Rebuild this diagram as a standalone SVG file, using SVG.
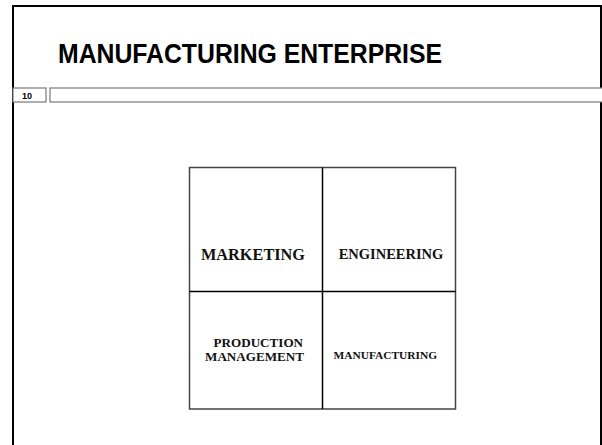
<svg xmlns="http://www.w3.org/2000/svg" width="602" height="445" viewBox="0 0 602 445">
<style>
.frame{fill:none;stroke:#000;stroke-width:2}
.bar{fill:#fff;stroke:#777;stroke-width:1.2}
.cell{fill:#fff;stroke:none}
.outer{fill:none;stroke:#444;stroke-width:1.5}
.div{stroke:#000;stroke-width:1.5}
.lbl{font-family:"Liberation Serif","Times New Roman",serif;font-weight:bold;fill:#111;text-anchor:middle}
</style>
<rect width="602" height="445" fill="#fff"/>
<rect class="frame" x="13" y="6" width="588" height="460"/>
<g id="title">
<text x="58" y="63" font-family="Liberation Sans, Arial, sans-serif" font-weight="bold" font-size="27" textLength="384" lengthAdjust="spacingAndGlyphs" fill="#000">MANUFACTURING ENTERPRISE</text>
</g>
<g id="slidebar">
<rect class="bar" x="13" y="88" width="33" height="14"/>
<rect class="bar" x="50" y="88" width="560" height="14"/>
<text x="27" y="98.5" font-family="Liberation Sans, Arial, sans-serif" font-weight="bold" font-size="9" text-anchor="middle" fill="#000">10</text>
</g>
<g id="marketing">
<rect class="cell" x="189.5" y="167.5" width="133" height="124"/>
<text class="lbl" x="253" y="260" font-size="16.3">MARKETING</text>
</g>
<g id="engineering">
<rect class="cell" x="322.5" y="167.5" width="133" height="124"/>
<text class="lbl" x="391" y="259.3" font-size="14.5">ENGINEERING</text>
</g>
<g id="production-management">
<rect class="cell" x="189.5" y="291.5" width="133" height="118"/>
<text class="lbl" font-size="13.1"><tspan x="258.3" y="346.7">PRODUCTION</tspan><tspan x="254.5" y="361">MANAGEMENT</tspan></text>
</g>
<g id="manufacturing">
<rect class="cell" x="322.5" y="291.5" width="133" height="118"/>
<text class="lbl" x="385.3" y="358.7" font-size="11.4">MANUFACTURING</text>
</g>
<g id="connectors">
<rect class="outer" x="189.5" y="167.5" width="266" height="241.5"/>
<line class="div" x1="322.5" y1="167.5" x2="322.5" y2="409"/>
<line class="div" x1="189.5" y1="291.5" x2="455.5" y2="291.5"/>
</g>
</svg>
